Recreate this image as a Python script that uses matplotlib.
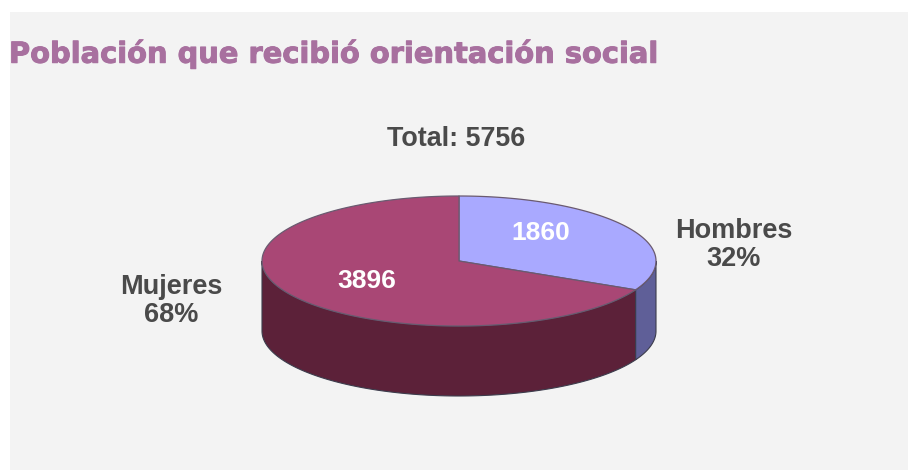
import numpy as np
import matplotlib
matplotlib.use("Agg")
import matplotlib.pyplot as plt
import matplotlib.patheffects as pe
from matplotlib.patches import Rectangle

labels = ["Hombres", "Mujeres"]
values = [1860, 3896]
percents = ["32%", "68%"]
total_label = "Total: 5756"
title = "Población que recibió orientación social"

top_colors = ["#a9a9ff", "#a94775"]
side_colors = ["#5f5f98", "#5c2139"]

# pie geometry in pixels of the 908x470 picture
cx, cy = 459, 261
rx, ry = 197, 65
depth = 70


def rim(a0, a1, n=200):
    t = np.radians(np.linspace(a0, a1, n))
    return cx + rx * np.cos(t), cy - ry * np.sin(t)


plt.rcParams["font.family"] = ["Liberation Sans", "DejaVu Sans"]

fig = plt.figure(figsize=(9.08, 4.70), dpi=100, facecolor="white")
ax = fig.add_axes([0, 0, 1, 1])
ax.set_xlim(0, 908)
ax.set_ylim(470, 0)
ax.axis("off")
ax.add_patch(Rectangle((10, 12), 898, 458, color="#f3f3f3", lw=0))

# slices run clockwise from 12 o'clock
fracs = np.array(values) / sum(values)
edges = 90 - 360 * np.concatenate([[0], np.cumsum(fracs)])

# side walls, only the front half of the ellipse shows
for i in range(len(values)):
    lo, hi = max(edges[i + 1], -180), min(edges[i], 0)
    if hi > lo:
        x, y = rim(hi, lo)
        ax.fill(np.r_[x, x[::-1]], np.r_[y, y[::-1] + depth],
                facecolor=side_colors[i], edgecolor="#3c3c4c", lw=0.8, zorder=2)

# top faces
for i in range(len(values)):
    x, y = rim(edges[i], edges[i + 1])
    ax.fill(np.r_[cx, x], np.r_[cy, y], facecolor=top_colors[i],
            edgecolor="#6a5a70", lw=0.9, joinstyle="round", zorder=4)

kw = dict(ha="center", va="center", fontweight="bold", zorder=6)
ax.text(9, 54, title, color="#a8709f", fontsize=20.8, family="DejaVu Sans", ha="left",
        va="center", fontweight="bold",
        path_effects=[pe.withStroke(linewidth=0.7, foreground="#a8709f")])
ax.text(456.5, 139, total_label, color="#4a4a4a", fontsize=19.4, **kw)
ax.text(541, 233, str(values[0]), color="white", fontsize=19, **kw)
ax.text(367, 281, str(values[1]), color="white", fontsize=19, **kw)
ax.text(734, 245, labels[0] + "\n" + percents[0], color="#4a4a4a", fontsize=19.5,
        linespacing=1.15, **kw)
ax.text(171.5, 301, labels[1] + "\n" + percents[1], color="#4a4a4a", fontsize=19.5,
        linespacing=1.15, **kw)

fig.savefig("out.png", dpi=100, facecolor=fig.get_facecolor())
